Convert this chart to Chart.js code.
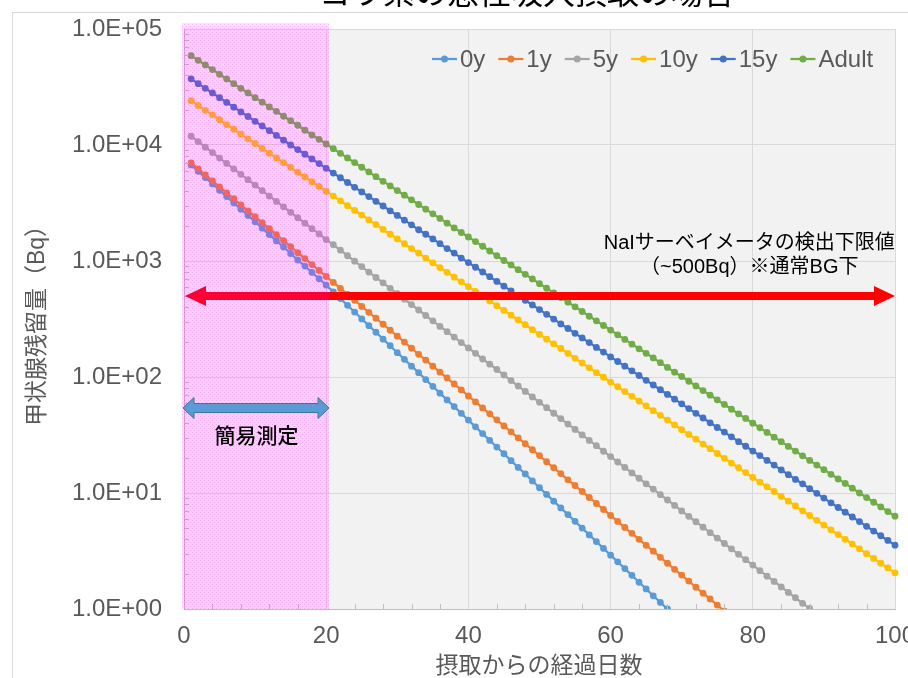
<!DOCTYPE html>
<html>
<head>
<meta charset="utf-8">
<script src="https://cdn.jsdelivr.net/npm/chart.js@4.4.0/dist/chart.umd.min.js"></script>
<style>
html, body { margin: 0; padding: 0; background: #fff; }
canvas { display: block; }
</style>
</head>
<body>
<canvas id="chart" width="908" height="678"></canvas>
<script>
// 経過日数
const days = [1,2,3,4,5,6,7,8,9,10,11,12,13,14,15,16,17,18,19,20,
  21,22,23,24,25,26,27,28,29,30,31,32,33,34,35,36,37,38,39,40,
  41,42,43,44,45,46,47,48,49,50,51,52,53,54,55,56,57,58,59,60,
  61,62,63,64,65,66,67,68,69,70,71,72,73,74,75,76,77,78,79,80,
  81,82,83,84,85,86,87,88,89,90,91,92,93,94,95,96,97,98,99,100];

const seriesNames = ['0y', '1y', '5y', '10y', '15y', 'Adult'];
const seriesColors = ['#5b9bd5', '#ed7d31', '#a5a5a5', '#ffc000', '#4472c4', '#70ad47'];

// 甲状腺残留量 (Bq)
const age0 = [6730,5930,5240,4620,4070,3590,3170,2800,2470,2180,
  1920,1690,1490,1320,1160,1020,904,797,703,620,
  542,474,415,363,317,277,243,212,186,162,
  142,124,109,95.0,83.1,72.6,63.5,55.6,48.6,42.5,
  37.2,32.5,28.4,24.9,21.8,19.0,16.6,14.6,12.7,11.1,
  9.73,8.51,7.44,6.51,5.70,4.98,4.35,3.81,3.33,2.91,
  2.55,2.23,1.95,1.70,1.49,1.30,1.14,1.00,0.87];
const age1 = [7000,6220,5520,4900,4360,3870,3440,3050,2710,2410,
  2140,1900,1690,1500,1330,1180,1050,932,828,735,
  653,580,515,458,406,361,321,285,253,225,
  200,177,157,140,124,110,98.0,87.0,77.3,68.6,
  61.0,54.1,48.1,42.7,37.9,33.7,29.9,26.6,23.6,21.0,
  18.6,16.5,14.7,13.0,11.6,10.3,9.15,8.12,7.21,6.40,
  5.69,5.05,4.49,3.99,3.54,3.15,2.79,2.48,2.20,1.96,
  1.74,1.54,1.37,1.22,1.08,0.96];
const age5 = [11900,10700,9580,8600,7720,6930,6230,5590,5020,4510,
  4050,3630,3260,2930,2630,2360,2120,1900,1710,1530,
  1380,1240,1110,997,895,803,721,648,581,522,
  469,421,378,339,305,273,246,221,198,178,
  160,143,129,116,104,93.1,83.6,75.1,67.4,60.5,
  54.4,48.7,43.8,39.3,35.3,31.7,28.4,25.6,22.9,20.6,
  18.5,16.6,14.9,13.4,12.0,10.8,9.68,8.70,7.81,7.01,
  6.30,5.65,5.07,4.55,4.09,3.67,3.30,2.96,2.66,2.39,
  2.14,1.92,1.73,1.55,1.39,1.25,1.12,1.01,0.90];
const age10 = [24100,21900,19900,18200,16500,15000,13700,12400,11300,10300,
  9350,8510,7740,7040,6410,5830,5300,4820,4390,3990,
  3630,3300,3000,2730,2490,2260,2060,1870,1700,1550,
  1410,1280,1170,1060,965,878,798,726,661,601,
  547,498,453,412,375,341,310,282,256,233,
  212,193,176,160,145,132,120,109,99.5,90.5,
  82.4,74.9,68.2,62.0,56.4,51.3,46.7,42.5,38.6,35.1,
  32.0,29.1,26.4,24.1,21.9,19.9,18.1,16.5,15.0,13.6,
  12.4,11.3,10.3,9.34,8.50,7.73,7.02,6.40,5.81,5.29,
  4.81,4.38,3.99,3.63,3.30,3.00,2.73,2.48,2.26,2.05];
const age15 = [37200,33800,30800,28100,25600,23300,21200,19300,17600,16000,
  14600,13300,12100,11000,10000,9140,8320,7580,6910,6290,
  5730,5220,4750,4320,3940,3590,3270,2980,2710,2470,
  2250,2050,1860,1700,1550,1410,1280,1170,1060,969,
  883,804,732,667,607,553,504,459,418,381,
  347,316,287,262,238,217,198,180,164,149,
  136,124,113,103,93.6,85.3,77.7,70.7,64.4,58.7,
  53.4,48.6,44.3,40.3,36.7,33.5,30.5,27.7,25.3,23.0,
  21.0,19.1,17.4,15.8,14.4,13.1,12.0,10.9,9.93,9.04,
  8.23,7.50,6.83,6.21,5.67,5.16,4.70,4.28,3.90,3.55];
const adult = [58900,53700,49000,44700,40700,37100,33800,30800,28100,25600,
  23400,21300,19500,17700,16200,14800,13400,12200,11200,10200,
  9290,8470,7730,7050,6430,5860,5330,4860,4440,4050,
  3690,3370,3070,2800,2550,2330,2120,1930,1760,1610,
  1470,1340,1220,1110,1010,925,841,767,700,638,
  582,531,484,442,403,367,334,305,278,254,
  231,211,192,175,160,146,133,121,110,101,
  91.9,83.8,76.4,69.7,63.6,58.0,52.7,48.1,43.9,40.0,
  36.5,33.3,30.3,27.7,25.2,23.0,20.9,19.1,17.4,15.9,
  14.5,13.2,12.1,11.0,10.0,9.14,8.32,7.59,6.92,6.31];

const seriesValues = [age0, age1, age5, age10, age15, adult];

const yTickValues = [1, 10, 100, 1000, 10000, 100000];
const detectLimit = 500;      // NaIサーベイメータの検出下限値
const simpleRangeEnd = 20.4;  // 簡易測定の範囲 (日)

const titleText = 'ヨウ素の急性吸入摂取の場合';
const xTitle = '摂取からの経過日数';
const yTitle = '甲状腺残留量（Bq）';
const limitLabel1 = 'NaIサーベイメータの検出下限値';
const limitLabel2 = '（~500Bq）※通常BG下';
const simpleLabel = '簡易測定';

const NUM_FONT = '"Liberation Sans", Arial, "Noto Sans CJK JP", sans-serif';
const AXIS_COLOR = '#595959';

function hArrow(ctx, x1, x2, cy, shaft, headH, headL) {
    ctx.beginPath();
    ctx.moveTo(x1, cy);
    ctx.lineTo(x1 + headL, cy - headH);
    ctx.lineTo(x1 + headL, cy - shaft);
    ctx.lineTo(x2 - headL, cy - shaft);
    ctx.lineTo(x2 - headL, cy - headH);
    ctx.lineTo(x2, cy);
    ctx.lineTo(x2 - headL, cy + headH);
    ctx.lineTo(x2 - headL, cy + shaft);
    ctx.lineTo(x1 + headL, cy + shaft);
    ctx.lineTo(x1 + headL, cy + headH);
    ctx.closePath();
}

// ピンクの網掛けパターン
function makePinkPattern(ctx) {
    const c = document.createElement('canvas');
    c.width = 4;
    c.height = 4;
    const p = c.getContext('2d');
    p.fillStyle = 'rgba(255, 0, 255, 0.13)';
    p.fillRect(0, 0, 4, 4);
    p.fillStyle = 'rgba(255, 0, 255, 0.2)';
    p.fillRect(0, 0, 1, 1);
    p.fillRect(2, 2, 1, 1);
    return ctx.createPattern(c, 'repeat');
}

const decorPlugin = {
    id: 'decor',
    beforeDraw(chart) {
        const { ctx, chartArea: a } = chart;
        ctx.save();
        // 外枠
        ctx.strokeStyle = '#d9d9d9';
        ctx.lineWidth = 1;
        ctx.strokeRect(12.5, 12.5, 1000, 1000);
        // タイトル (上が切れている)
        ctx.fillStyle = '#000';
        ctx.font = '32px "Noto Sans CJK JP", sans-serif';
        ctx.textAlign = 'center';
        ctx.textBaseline = 'alphabetic';
        ctx.fillText(titleText, 527, 4);
        // プロットエリア背景
        ctx.fillStyle = '#f2f2f2';
        ctx.fillRect(a.left, a.top, a.right - a.left, a.bottom - a.top);
        ctx.restore();
    },
    afterDatasetsDraw(chart) {
        const { ctx, chartArea: a } = chart;
        const xs = chart.scales.x;
        const ys = chart.scales.y;
        ctx.save();

        // 補助目盛
        ctx.strokeStyle = '#bfbfbf';
        ctx.lineWidth = 1;
        ctx.beginPath();
        for (let p = 0; p < 5; p++) {
            for (let k = 2; k <= 9; k++) {
                const y = Math.round(ys.getPixelForValue(k * Math.pow(10, p))) + 0.5;
                ctx.moveTo(a.left, y);
                ctx.lineTo(a.left + 5, y);
            }
        }
        for (let d = 4; d < 100; d += 4) {
            if (d % 20 === 0) continue;
            const x = Math.round(xs.getPixelForValue(d)) + 0.5;
            ctx.moveTo(x, a.bottom);
            ctx.lineTo(x, a.bottom - 5);
        }
        ctx.stroke();

        // 検出下限の矢印
        const ly = ys.getPixelForValue(detectLimit);
        ctx.fillStyle = '#ff0000';
        hArrow(ctx, a.left + 1, a.right, ly, 4, 10, 21);
        ctx.fill();

        // 簡易測定の範囲
        const sx2 = xs.getPixelForValue(simpleRangeEnd);
        ctx.fillStyle = makePinkPattern(ctx);
        ctx.fillRect(a.left - 2, a.top - 6, sx2 - a.left + 2, a.bottom - a.top + 6);

        // 簡易測定の矢印
        const by = ys.getPixelForValue(54);
        ctx.fillStyle = '#5b9bd5';
        ctx.strokeStyle = '#41719c';
        ctx.lineWidth = 1;
        hArrow(ctx, a.left - 1, sx2, by, 4.5, 10.5, 11);
        ctx.fill();
        ctx.stroke();

        ctx.fillStyle = '#000';
        ctx.textAlign = 'center';
        ctx.textBaseline = 'middle';
        ctx.font = '500 21px "Noto Sans CJK JP", sans-serif';
        ctx.fillText(simpleLabel, (a.left + sx2) / 2, by + 27);

        ctx.font = '20px ' + NUM_FONT;
        const lx = xs.getPixelForValue(79.5);
        ctx.fillText(limitLabel1, lx, ly - 52);
        ctx.fillText(limitLabel2, lx, ly - 28);

        // 凡例
        ctx.font = '24px ' + NUM_FONT;
        ctx.textAlign = 'left';
        let x = 432;
        const legY = 59;
        seriesNames.forEach((name, i) => {
            ctx.strokeStyle = seriesColors[i];
            ctx.lineWidth = 2.25;
            ctx.beginPath();
            ctx.moveTo(x, legY);
            ctx.lineTo(x + 25, legY);
            ctx.stroke();
            ctx.fillStyle = seriesColors[i];
            ctx.beginPath();
            ctx.arc(x + 12.5, legY, 3.5, 0, Math.PI * 2);
            ctx.fill();
            ctx.fillStyle = AXIS_COLOR;
            ctx.fillText(name, x + 28, legY + 1);
            x += 28 + ctx.measureText(name).width + 13;
        });

        // 軸ラベル
        ctx.fillStyle = AXIS_COLOR;
        ctx.textAlign = 'center';
        ctx.font = '23px ' + NUM_FONT;
        ctx.fillText(xTitle, 539, 667);
        ctx.translate(38, 320);
        ctx.rotate(-Math.PI / 2);
        ctx.fillText(yTitle, 0, 0);
        ctx.restore();
    }
};

const datasets = seriesNames.map((name, i) => ({
    label: name,
    data: seriesValues[i],
    borderColor: seriesColors[i],
    backgroundColor: seriesColors[i],
    borderWidth: 2.25,
    pointRadius: 3.4,
    pointBorderWidth: 0,
    pointHoverRadius: 3.4,
    tension: 0,
    order: seriesNames.length - i,
    clip: { left: 6, right: 6, top: 6, bottom: 0 }
}));

new Chart(document.getElementById('chart').getContext('2d'), {
    type: 'line',
    data: { labels: days, datasets: datasets },
    plugins: [decorPlugin],
    options: {
        responsive: false,
        animation: false,
        devicePixelRatio: 1,
        layout: { padding: { top: 29, right: 13, left: 0, bottom: 0 } },
        plugins: {
            legend: { display: false },
            tooltip: { enabled: false },
            title: { display: false }
        },
        scales: {
            x: {
                type: 'linear',
                min: 0,
                max: 100,
                ticks: {
                    stepSize: 20,
                    color: AXIS_COLOR,
                    font: { family: NUM_FONT, size: 24 },
                    padding: 13,
                    maxRotation: 0
                },
                grid: { color: '#d9d9d9', drawTicks: false },
                border: { color: '#bfbfbf' },
                afterFit(scale) {
                    scale.height = 69;
                    scale.paddingLeft = 0;
                    scale.paddingRight = 0;
                }
            },
            y: {
                type: 'logarithmic',
                min: 1,
                max: 100000,
                afterBuildTicks(scale) {
                    scale.ticks = yTickValues.map(v => ({ value: v, major: true }));
                },
                ticks: {
                    autoSkip: false,
                    color: AXIS_COLOR,
                    font: { family: NUM_FONT, size: 24 },
                    padding: 22,
                    callback: v => v.toExponential(1).toUpperCase().replace(/E([+-])(\d)$/, 'E$10$2')
                },
                grid: { color: '#d9d9d9', drawTicks: false },
                border: { color: '#bfbfbf' },
                afterFit(scale) {
                    scale.width = 184;
                    scale.paddingTop = 0;
                    scale.paddingBottom = 0;
                }
            }
        }
    }
});
</script>
</body>
</html>
